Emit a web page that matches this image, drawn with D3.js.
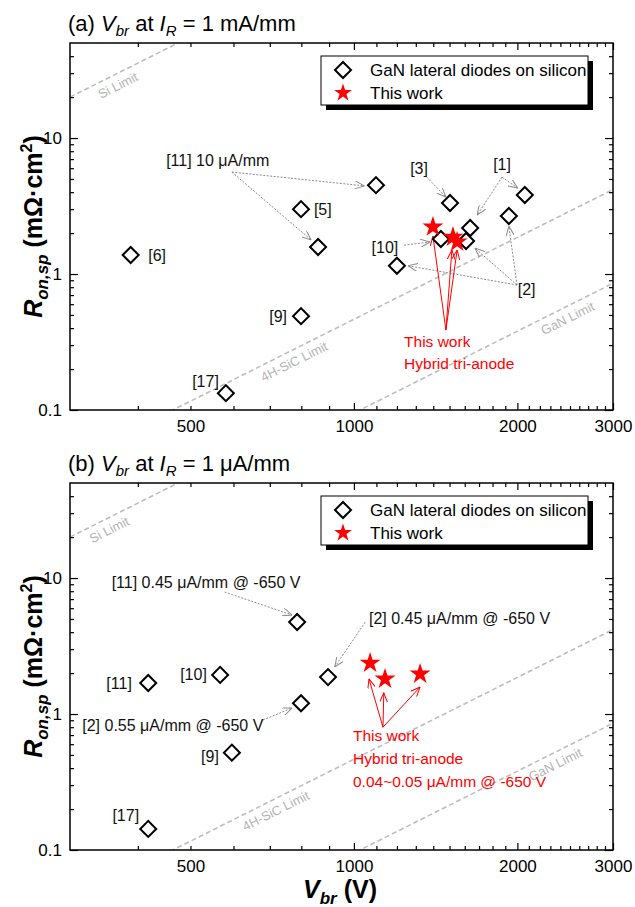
<!DOCTYPE html>
<html>
<head>
<meta charset="utf-8">
<script src="https://cdn.jsdelivr.net/npm/d3@7"></script>
<style>
body { margin: 0; background: #fff; }
svg { font-family: "Liberation Sans", Arial, sans-serif; }
</style>
</head>
<body>
<svg id="chart" width="635" height="907"></svg>
<script>
// ---- data ----
const X_TICK_LABELS = [500, 1000, 2000, 3000];
const X_MAJOR = [1000, 2000, 3000];
const Y_TICK_LABELS = [0.1, 1, 10];

// limit lines, end points at 300 V and 3000 V
const LIMIT_NAMES = ["Si Limit", "4H-SiC Limit", "GaN Limit"];
const LIMIT_V = [300, 3000];
const LIMIT_R = [[20, 2000], [0.0418, 4.18], [0.00855, 0.855]];

// (a) Vbr at IR = 1 mA/mm
const A_REF_V = [388, 799, 859, 799, 581, 1098, 1503, 2064, 1929, 1637, 1446, 1609, 1200];
const A_REF_R = [1.38, 3.0, 1.58, 0.49, 0.133, 4.5, 3.33, 3.81, 2.67, 2.18, 1.81, 1.75, 1.15];
const A_WORK_V = [1398, 1522, 1549];
const A_WORK_R = [2.22, 1.87, 1.72];
const A_LIMIT_LABEL_V = [360, 760, 2424];

// (b) Vbr at IR = 1 uA/mm
const B_REF_V = [418, 567, 596, 418, 786, 799, 896];
const B_REF_R = [1.69, 1.94, 0.52, 0.143, 4.75, 1.2, 1.87];
const B_WORK_V = [1071, 1141, 1324];
const B_WORK_R = [2.37, 1.81, 1.97];
const B_LIMIT_LABEL_V = [347, 703, 2300];

// annotations (data units)
const A_LABELS = [
    { t: "[11] 10 \u03bcA/mm", v: 451, r: 6.89, a: "start" },
    { t: "[5]", v: 844, r: 3.0, a: "start" },
    { t: "[6]", v: 418, r: 1.38, a: "start" },
    { t: "[9]", v: 753, r: 0.49, a: "end" },
    { t: "[17]", v: 564, r: 0.163, a: "end" },
    { t: "[3]", v: 1318, r: 6.01, a: "middle" },
    { t: "[1]", v: 1874, r: 6.44, a: "middle" },
    { t: "[10]", v: 1207, r: 1.58, a: "end" },
    { t: "[2]", v: 2080, r: 0.776, a: "middle" }
];
const A_ARROWS = [
    [[596, 5.62], [1045, 4.45]],
    [[596, 5.62], [834, 1.78]],
    [[1362, 5.16], [1477, 3.68]],
    [[1874, 5.16], [2002, 4.29]],
    [[1874, 5.16], [1687, 2.72]],
    [[1237, 1.63], [1381, 1.72]],
    [[1997, 0.83], [1929, 2.25]],
    [[1997, 0.83], [1671, 1.55]],
    [[1997, 0.83], [1258, 1.15]]
];
const A_NOTE = ["This work", "Hybrid tri-anode"];
const A_NOTE_POS = [[1237, 0.316], [1237, 0.218]];
const A_RED_ARROWS = [
    [[1477, 0.387], [1398, 1.90]],
    [[1477, 0.387], [1515, 1.5]],
    [[1477, 0.387], [1549, 1.5]]
];

const B_LABELS = [
    { t: "[11] 0.45 \u03bcA/mm @ -650 V", v: 358, r: 9.35, a: "start" },
    { t: "[2] 0.45 \u03bcA/mm @ -650 V", v: 1066, r: 5.08, a: "start" },
    { t: "[2] 0.55 \u03bcA/mm @ -650 V", v: 316, r: 0.83, a: "start" },
    { t: "[11]", v: 390, r: 1.69, a: "end" },
    { t: "[10]", v: 536, r: 1.94, a: "end" },
    { t: "[9]", v: 564, r: 0.49, a: "end" },
    { t: "[17]", v: 380, r: 0.181, a: "middle" }
];
const B_ARROWS = [
    [[578, 7.89], [769, 5.35]],
    [[1049, 4.74], [922, 2.22]],
    [[680, 0.904], [769, 1.106]]
];
const B_NOTE = ["This work", "Hybrid tri-anode", "0.04~0.05 \u03bcA/mm @ -650 V"];
const B_NOTE_POS = [[996, 0.689], [996, 0.467], [996, 0.316]];
const B_RED_ARROWS = [
    [[1131, 0.80], [1066, 1.81]],
    [[1131, 0.80], [1135, 1.43]],
    [[1131, 0.80], [1324, 1.58]]
];

// ---- layout ----
const LEFT = 70, RIGHT = 613, PLOT_H = 367;
const RED = "#ff0000";
const GREY = "#8a8a8a";

const svg = d3.select("#chart");

const defs = svg.append("defs");
function addMarker(id, colour) {
    defs.append("marker")
        .attr("id", id)
        .attr("viewBox", "0 0 10 8")
        .attr("refX", 9.5).attr("refY", 4)
        .attr("markerWidth", 10).attr("markerHeight", 8)
        .attr("markerUnits", "userSpaceOnUse")
        .attr("orient", "auto")
        .append("path")
        .attr("d", "M0,0L9.5,4L0,8")
        .attr("fill", "none")
        .attr("stroke", colour)
        .attr("stroke-width", 1);
}
addMarker("arrGrey", GREY);
addMarker("arrRed", RED);

function drawPanel(cfg) {
    const top = cfg.top, bottom = top + PLOT_H;
    const x = d3.scaleLog().domain([300, 3000]).range([LEFT, RIGHT]);
    const y = d3.scaleLog().domain([0.1, 50]).range([bottom, top]);
    const g = svg.append("g");

    const clipId = "clip" + cfg.id;
    defs.append("clipPath").attr("id", clipId)
        .append("rect")
        .attr("x", LEFT).attr("y", top)
        .attr("width", RIGHT - LEFT).attr("height", PLOT_H);

    // limit lines
    LIMIT_NAMES.forEach(function (name, i) {
        const p1 = [x(LIMIT_V[0]), y(LIMIT_R[i][0])];
        const p2 = [x(LIMIT_V[1]), y(LIMIT_R[i][1])];
        g.append("line")
            .attr("clip-path", "url(#" + clipId + ")")
            .attr("x1", p1[0]).attr("y1", p1[1])
            .attr("x2", p2[0]).attr("y2", p2[1])
            .attr("stroke", "#bdbdbd")
            .attr("stroke-width", 1.6)
            .attr("stroke-dasharray", "5,3");

        const ang = Math.atan2(p2[1] - p1[1], p2[0] - p1[0]);
        const lx = x(cfg.limitLabelV[i]);
        const ly = p1[1] + (lx - p1[0]) * Math.tan(ang);
        const off = 11;
        g.append("text")
            .attr("transform", "translate(" + (lx - Math.sin(ang) * off) + "," + (ly + Math.cos(ang) * off) + ") rotate(" + (ang * 180 / Math.PI) + ")")
            .attr("text-anchor", "middle")
            .attr("dy", "0.35em")
            .attr("font-size", "13px")
            .attr("fill", "#b4b4b4")
            .text(name);
    });

    // axes: inward ticks on all four sides
    const minorX = d3.range(400, 3000, 100).filter(function (v) { return X_MAJOR.indexOf(v) < 0; });
    const minorY = [0.2, 0.3, 0.4, 0.5, 0.6, 0.7, 0.8, 0.9, 2, 3, 4, 5, 6, 7, 8, 9, 20, 30, 40];

    function axisGroup(axis, tx, ty) {
        const a = g.append("g")
            .attr("transform", "translate(" + tx + "," + ty + ")")
            .call(axis);
        a.select(".domain").remove();
        a.selectAll("line").attr("stroke", "#000").attr("stroke-width", 1.2);
        a.selectAll("text").attr("fill", "#000").attr("font-size", "17px")
            .attr("font-family", "'Liberation Sans', Arial, sans-serif");
        return a;
    }
    const fmtX = function (d) { return X_TICK_LABELS.indexOf(d) >= 0 ? d : ""; };

    axisGroup(d3.axisBottom(x).tickValues(minorX).tickSize(-4).tickFormat(fmtX).tickPadding(10), 0, bottom);
    axisGroup(d3.axisBottom(x).tickValues(X_MAJOR).tickSize(-7).tickFormat(fmtX).tickPadding(10), 0, bottom);
    axisGroup(d3.axisTop(x).tickValues(minorX).tickSize(-4).tickFormat(""), 0, top);
    axisGroup(d3.axisTop(x).tickValues(X_MAJOR).tickSize(-7).tickFormat(""), 0, top);

    axisGroup(d3.axisLeft(y).tickValues(minorY).tickSize(-4).tickFormat(""), LEFT, 0);
    axisGroup(d3.axisLeft(y).tickValues(Y_TICK_LABELS).tickSize(-8).tickPadding(8)
        .tickFormat(function (d) { return d < 1 ? "0.1" : String(d); }), LEFT, 0);
    axisGroup(d3.axisRight(y).tickValues(minorY).tickSize(-4).tickFormat(""), RIGHT, 0);
    axisGroup(d3.axisRight(y).tickValues(Y_TICK_LABELS).tickSize(-8).tickFormat(""), RIGHT, 0);

    g.append("rect")
        .attr("x", LEFT).attr("y", top)
        .attr("width", RIGHT - LEFT).attr("height", PLOT_H)
        .attr("fill", "none").attr("stroke", "#000").attr("stroke-width", 1.5);

    // grey annotation arrows
    g.selectAll(".garrow").data(cfg.arrows).enter().append("line")
        .attr("x1", function (d) { return x(d[0][0]); })
        .attr("y1", function (d) { return y(d[0][1]); })
        .attr("x2", function (d) { return x(d[1][0]); })
        .attr("y2", function (d) { return y(d[1][1]); })
        .attr("stroke", GREY).attr("stroke-width", 1)
        .attr("stroke-dasharray", "2,1.5")
        .attr("marker-end", "url(#arrGrey)");

    // red arrows
    g.selectAll(".rarrow").data(cfg.redArrows).enter().append("line")
        .attr("x1", function (d) { return x(d[0][0]); })
        .attr("y1", function (d) { return y(d[0][1]); })
        .attr("x2", function (d) { return x(d[1][0]); })
        .attr("y2", function (d) { return y(d[1][1]); })
        .attr("stroke", RED).attr("stroke-width", 1)
        .attr("marker-end", "url(#arrRed)");

    // reference diamonds
    const diamond = d3.symbol(d3.symbolSquare, 128);
    g.selectAll(".ref").data(cfg.refV).enter().append("path")
        .attr("d", diamond)
        .attr("transform", function (d, i) {
            return "translate(" + x(d) + "," + y(cfg.refR[i]) + ") rotate(45)";
        })
        .attr("fill", "#fff").attr("stroke", "#000").attr("stroke-width", 2);

    // this work stars
    const star = d3.symbol(d3.symbolStar, 136);
    g.selectAll(".work").data(cfg.workV).enter().append("path")
        .attr("d", star)
        .attr("transform", function (d, i) {
            return "translate(" + x(d) + "," + y(cfg.workR[i]) + ")";
        })
        .attr("fill", RED);

    // labels
    g.selectAll(".lbl").data(cfg.labels).enter().append("text")
        .attr("x", function (d) { return x(d.v); })
        .attr("y", function (d) { return y(d.r); })
        .attr("dy", "0.35em")
        .attr("text-anchor", function (d) { return d.a; })
        .attr("font-size", "16px")
        .attr("fill", "#111")
        .text(function (d) { return d.t; });

    g.selectAll(".note").data(cfg.note).enter().append("text")
        .attr("x", function (d, i) { return x(cfg.notePos[i][0]); })
        .attr("y", function (d, i) { return y(cfg.notePos[i][1]); })
        .attr("dy", "0.35em")
        .attr("font-size", "15.5px")
        .attr("fill", RED)
        .text(function (d) { return d; });

    // legend
    const lx = 321, ly = top + 13, lw = 267, lh = 49;
    g.append("rect").attr("x", lx + 5).attr("y", ly + 5).attr("width", lw).attr("height", lh).attr("fill", "#000");
    g.append("rect").attr("x", lx).attr("y", ly).attr("width", lw).attr("height", lh)
        .attr("fill", "#fff").attr("stroke", "#000").attr("stroke-width", 1);
    g.append("path").attr("d", diamond)
        .attr("transform", "translate(" + (lx + 22) + "," + (ly + 14) + ") rotate(45)")
        .attr("fill", "#fff").attr("stroke", "#000").attr("stroke-width", 2);
    g.append("path").attr("d", d3.symbol(d3.symbolStar, 100))
        .attr("transform", "translate(" + (lx + 22) + "," + (ly + 37) + ")")
        .attr("fill", RED);
    g.append("text").attr("x", lx + 49).attr("y", ly + 14).attr("dy", "0.35em")
        .attr("font-size", "17px").text("GaN lateral diodes on silicon");
    g.append("text").attr("x", lx + 49).attr("y", ly + 37).attr("dy", "0.35em")
        .attr("font-size", "17px").text("This work");

    // panel title
    const t = g.append("text").attr("x", 68).attr("y", top - 12).attr("font-size", "22px");
    t.append("tspan").text(cfg.letter + " ");
    t.append("tspan").attr("font-style", "italic").text("V");
    t.append("tspan").attr("font-style", "italic").attr("font-size", "15px").attr("dy", 5).text("br");
    t.append("tspan").attr("dy", -5).text(" at ");
    t.append("tspan").attr("font-style", "italic").text("I");
    t.append("tspan").attr("font-style", "italic").attr("font-size", "15px").attr("dy", 5).text("R");
    t.append("tspan").attr("dy", -5).text(" = 1 " + cfg.unit);

    // y title
    const yt = g.append("text")
        .attr("transform", "translate(42," + (top + PLOT_H / 2) + ") rotate(-90)")
        .attr("text-anchor", "middle")
        .attr("font-size", "25px").attr("font-weight", "bold");
    yt.append("tspan").attr("font-style", "italic").text("R");
    yt.append("tspan").attr("font-style", "italic").attr("font-size", "17px").attr("dy", 6).text("on,sp");
    yt.append("tspan").attr("dy", -6).text(" (m\u03a9\u00b7cm");
    yt.append("tspan").attr("font-size", "16px").attr("dy", -10).text("2");
    yt.append("tspan").attr("dy", 10).text(")");
}

drawPanel({
    id: "a", top: 43, letter: "(a)", unit: "mA/mm",
    refV: A_REF_V, refR: A_REF_R, workV: A_WORK_V, workR: A_WORK_R,
    labels: A_LABELS, arrows: A_ARROWS, note: A_NOTE, notePos: A_NOTE_POS,
    redArrows: A_RED_ARROWS, limitLabelV: A_LIMIT_LABEL_V
});
drawPanel({
    id: "b", top: 483, letter: "(b)", unit: "\u03bcA/mm",
    refV: B_REF_V, refR: B_REF_R, workV: B_WORK_V, workR: B_WORK_R,
    labels: B_LABELS, arrows: B_ARROWS, note: B_NOTE, notePos: B_NOTE_POS,
    redArrows: B_RED_ARROWS, limitLabelV: B_LIMIT_LABEL_V
});

// x title
const xt = svg.append("text")
    .attr("x", 340).attr("y", 898)
    .attr("text-anchor", "middle")
    .attr("font-size", "25px").attr("font-weight", "bold");
xt.append("tspan").attr("font-style", "italic").text("V");
xt.append("tspan").attr("font-style", "italic").attr("font-size", "17px").attr("dy", 6).text("br");
xt.append("tspan").attr("dy", -6).text(" (V)");
</script>
</body>
</html>
